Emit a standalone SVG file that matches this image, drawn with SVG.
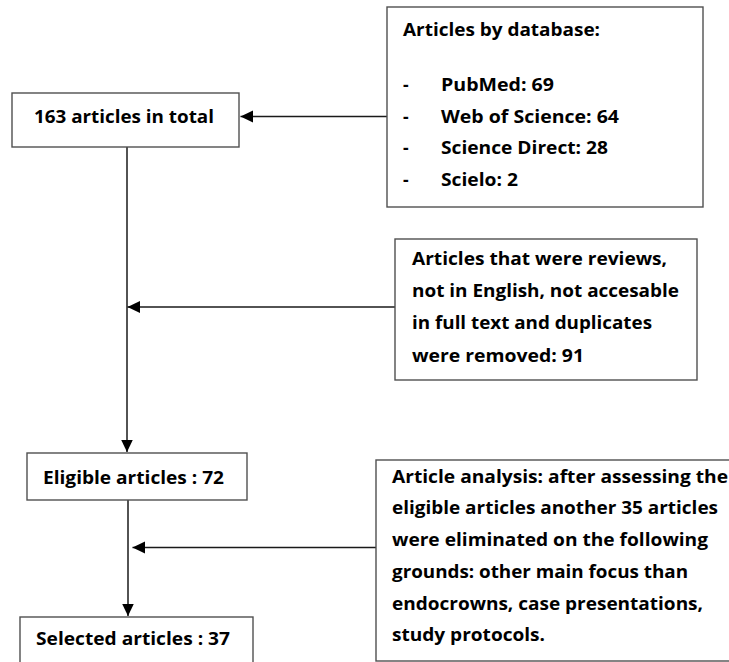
<svg xmlns="http://www.w3.org/2000/svg" width="729" height="662" viewBox="0 0 729 662">
<style>
.box{fill:#fff;stroke:#505050;stroke-width:1.4}
.t{font-family:"Open Sans","Liberation Sans",sans-serif;font-weight:bold;font-size:17.5px;fill:#000}
.c{stroke:#1a1a1a;stroke-width:1.5;fill:none}
</style>
<defs>
<marker id="ah" markerUnits="userSpaceOnUse" markerWidth="13" markerHeight="13" viewBox="0 0 13 13" refX="12.5" refY="6.5" orient="auto">
<path d="M0,0.5 L12.5,6.5 L0,12.5 Z" fill="#000"/>
</marker>
</defs>
<g id="connectors">
<line class="c" x1="387" y1="116.5" x2="240.5" y2="116.5" marker-end="url(#ah)"/>
<line class="c" x1="127" y1="147" x2="127" y2="452" marker-end="url(#ah)"/>
<line class="c" x1="395" y1="307" x2="127.5" y2="307" marker-end="url(#ah)"/>
<line class="c" x1="128" y1="500" x2="128" y2="616" marker-end="url(#ah)"/>
<line class="c" x1="376" y1="547.5" x2="132.5" y2="547.5" marker-end="url(#ah)"/>
</g>
<g id="databases">
<rect class="box" x="387" y="7" width="316" height="200"/>
<text class="t" x="403" y="36" textLength="197" lengthAdjust="spacingAndGlyphs">Articles by database:</text>
<text class="t" x="403" y="91">-</text>
<text class="t" x="441" y="91" textLength="113" lengthAdjust="spacingAndGlyphs">PubMed: 69</text>
<text class="t" x="403" y="123">-</text>
<text class="t" x="441" y="123" textLength="178" lengthAdjust="spacingAndGlyphs">Web of Science: 64</text>
<text class="t" x="403" y="154">-</text>
<text class="t" x="441" y="154" textLength="167" lengthAdjust="spacingAndGlyphs">Science Direct: 28</text>
<text class="t" x="403" y="186">-</text>
<text class="t" x="441" y="186" textLength="77" lengthAdjust="spacingAndGlyphs">Scielo: 2</text>
</g>
<g id="total">
<rect class="box" x="12" y="93" width="227" height="54"/>
<text class="t" x="34" y="122.5" textLength="180" lengthAdjust="spacingAndGlyphs">163 articles in total</text>
</g>
<g id="removed">
<rect class="box" x="395" y="239" width="302" height="141"/>
<text class="t" x="412" y="264.5" textLength="255" lengthAdjust="spacingAndGlyphs">Articles that were reviews,</text>
<text class="t" x="412" y="296.8" textLength="267" lengthAdjust="spacingAndGlyphs">not in English, not accesable</text>
<text class="t" x="412" y="329" textLength="240" lengthAdjust="spacingAndGlyphs">in full text and duplicates</text>
<text class="t" x="412" y="361.5" textLength="172" lengthAdjust="spacingAndGlyphs">were removed: 91</text>
</g>
<g id="eligible">
<rect class="box" x="27" y="453" width="220" height="47"/>
<text class="t" x="43" y="484" textLength="181" lengthAdjust="spacingAndGlyphs">Eligible articles : 72</text>
</g>
<g id="analysis">
<rect class="box" x="376" y="460" width="360" height="201"/>
<text class="t" x="392" y="482.7" textLength="336" lengthAdjust="spacingAndGlyphs">Article analysis: after assessing the</text>
<text class="t" x="392" y="514.4" textLength="326" lengthAdjust="spacingAndGlyphs">eligible articles another 35 articles</text>
<text class="t" x="392" y="546.1" textLength="316" lengthAdjust="spacingAndGlyphs">were eliminated on the following</text>
<text class="t" x="392" y="577.8" textLength="296" lengthAdjust="spacingAndGlyphs">grounds: other main focus than</text>
<text class="t" x="392" y="609.5" textLength="311" lengthAdjust="spacingAndGlyphs">endocrowns, case presentations,</text>
<text class="t" x="392" y="641.2" textLength="153" lengthAdjust="spacingAndGlyphs">study protocols.</text>
</g>
<g id="selected">
<rect class="box" x="20" y="617" width="233" height="60"/>
<text class="t" x="36" y="645" textLength="194" lengthAdjust="spacingAndGlyphs">Selected articles : 37</text>
</g>
</svg>
